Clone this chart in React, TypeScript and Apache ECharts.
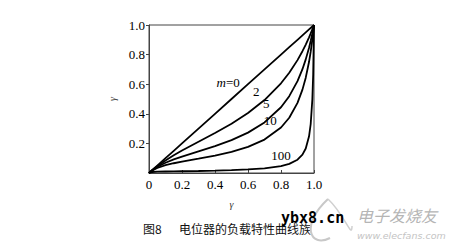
import React, { useEffect, useRef } from "react";
import * as echarts from "echarts";

const xValues = [0, 0.01, 0.02, 0.05, 0.1, 0.15, 0.2, 0.3, 0.4, 0.5, 0.6, 0.7, 0.8, 0.85, 0.9, 0.93, 0.95, 0.97, 0.98, 0.99, 0.995, 1];
const yM0 = [0, 0.01, 0.02, 0.05, 0.1, 0.15, 0.2, 0.3, 0.4, 0.5, 0.6, 0.7, 0.8, 0.85, 0.9, 0.93, 0.95, 0.97, 0.98, 0.99, 0.995, 1];
const yM2 = [0, 0.0098, 0.0192, 0.0457, 0.0847, 0.1195, 0.1515, 0.2113, 0.2703, 0.3333, 0.4054, 0.493, 0.6061, 0.6773, 0.7627, 0.8229, 0.8676, 0.9167, 0.943, 0.9708, 0.985, 1];
const yM5 = [0, 0.0095, 0.0182, 0.0404, 0.069, 0.0916, 0.1111, 0.1463, 0.1818, 0.2222, 0.2727, 0.3415, 0.4444, 0.5191, 0.6207, 0.7016, 0.7677, 0.8468, 0.8925, 0.9433, 0.971, 1];
const yM10 = [0, 0.0091, 0.0167, 0.0339, 0.0526, 0.0659, 0.0769, 0.0968, 0.1176, 0.1429, 0.1765, 0.2258, 0.3077, 0.3736, 0.4737, 0.5633, 0.6441, 0.7514, 0.8194, 0.9008, 0.948, 1];
const yM100 = [0, 0.005, 0.0068, 0.0087, 0.01, 0.0109, 0.0118, 0.0136, 0.016, 0.0192, 0.024, 0.0318, 0.0471, 0.0618, 0.09, 0.1238, 0.1652, 0.2481, 0.3311, 0.4975, 0.664, 1];

const curveNames = ["m=0", "2", "5", "10", "100"];
const curveValues = [yM0, yM2, yM5, yM10, yM100];
// label anchor points in data coordinates
const labelX = [0.48, 0.65, 0.71, 0.735, 0.8];
const labelY = [0.61, 0.554, 0.47, 0.358, 0.115];

const xTicks = ["0", "0.2", "0.4", "0.6", "0.8", "1.0"];
const axisTitle = "γ";
const captionFigure = "图8";
const captionText = "电位器的负载特性曲线族";
const watermark = "ybx8.cn";
const logoText = "电子发烧友";
const logoUrl = "www.elecfans.com";

const serif = "'Liberation Serif', 'DejaVu Serif', serif";

export default function App() {
  const ref = useRef<HTMLDivElement>(null);
  useEffect(() => {
    if (!ref.current) return;
    const chart = echarts.init(ref.current, undefined, { renderer: "svg" });
    const series = curveValues.map((vals, i) => ({
      type: "line",
      name: curveNames[i],
      data: xValues.map((x, j) => [x, vals[j]]),
      showSymbol: false,
      smooth: false,
      lineStyle: { color: "#000", width: 1.8 },
      z: 3,
      markPoint: {
        symbol: "circle",
        symbolSize: 0,
        silent: true,
        data: [{ coord: [labelX[i], labelY[i]] }],
        label: {
          show: true,
          position: "inside",
          color: "#000",
          fontFamily: serif,
          fontSize: 13,
          formatter: i === 0 ? "{i|m}=0" : curveNames[i],
          rich: { i: { fontStyle: "italic", fontFamily: serif, fontSize: 13, color: "#000" } },
        },
      },
    }));
    chart.setOption({
      animation: false,
      backgroundColor: "#fff",
      grid: {
        left: 149,
        right: 147,
        top: 25,
        bottom: 78,
        show: true,
        borderColor: "#444",
        borderWidth: 1,
      },
      xAxis: {
        type: "value",
        min: 0,
        max: 1,
        interval: 0.2,
        name: axisTitle,
        nameLocation: "middle",
        nameGap: 26,
        nameTextStyle: { fontFamily: serif, fontStyle: "italic", fontSize: 10, color: "#333" },
        axisLine: { show: true, lineStyle: { color: "#444", width: 1 } },
        axisTick: { show: true, inside: true, length: 3, lineStyle: { color: "#444" } },
        splitLine: { show: false },
        axisLabel: {
          color: "#000",
          fontFamily: serif,
          fontSize: 13,
          margin: 5,
          formatter: (v: number) => xTicks[Math.round(v / 0.2)],
        },
      },
      yAxis: {
        type: "value",
        min: 0,
        max: 1,
        interval: 0.2,
        name: axisTitle,
        nameLocation: "middle",
        nameGap: 32,
        nameRotate: 90,
        nameTextStyle: { fontFamily: serif, fontStyle: "italic", fontSize: 10, color: "#333" },
        axisLine: { show: true, lineStyle: { color: "#444", width: 1 } },
        axisTick: { show: true, inside: false, length: 3, lineStyle: { color: "#444" } },
        splitLine: { show: false },
        axisLabel: {
          color: "#000",
          fontFamily: serif,
          fontSize: 13,
          margin: 4,
          showMinLabel: false,
          formatter: (v: number) => (v === 0 ? "" : v.toFixed(1)),
        },
      },
      series,
      graphic: [
        {
          type: "text",
          left: 143,
          top: 222,
          style: { text: captionFigure, font: "12px 'Noto Sans CJK SC'", fill: "#111" },
        },
        {
          type: "text",
          left: 179,
          top: 222,
          style: { text: captionText, font: "12px 'Noto Sans CJK SC'", fill: "#111" },
        },
        {
          type: "bezierCurve",
          shape: { x1: 328, y1: 199, cpx1: 300, cpy1: 225, x2: 330, y2: 238, cpx2: 310, cpy2: 248 },
          style: { stroke: "#c8c8c8", lineWidth: 2, fill: null },
        },
        {
          type: "bezierCurve",
          shape: { x1: 328, y1: 199, cpx1: 345, cpy1: 215, x2: 352, y2: 226, cpx2: 352, cpy2: 240 },
          style: { stroke: "#d0d0d0", lineWidth: 1.5, fill: null },
        },
        {
          type: "text",
          left: 281,
          top: 210,
          style: { text: watermark, font: "bold 15px 'DejaVu Sans Mono'", fill: "#000" },
          z: 10,
        },
        {
          type: "text",
          left: 357,
          top: 207,
          style: { text: logoText, font: "italic 16px 'Noto Sans CJK SC'", fill: "#b5b5b5" },
        },
        {
          type: "text",
          left: 357,
          top: 230,
          style: { text: logoUrl, font: "italic 9.5px 'DejaVu Sans'", fill: "#c4c4c4" },
        },
      ],
    });
    return () => chart.dispose();
  }, []);
  return (
    <div
      ref={ref}
      style={{ position: "fixed", left: 0, top: 0, width: 461, height: 251, background: "#fff" }}
    />
  );
}
